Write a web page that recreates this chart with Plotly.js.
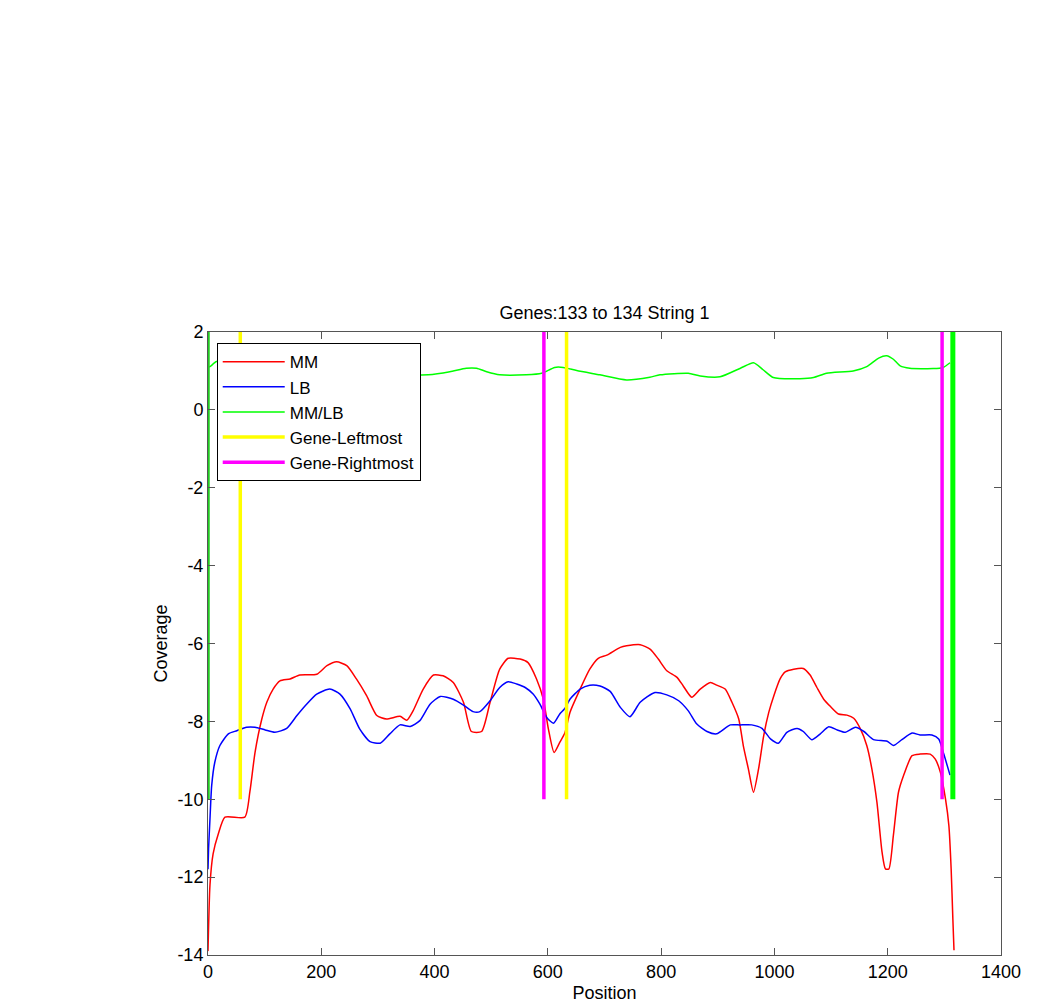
<!DOCTYPE html>
<html>
<head>
<meta charset="utf-8">
<script src="https://cdn.plot.ly/plotly-3.0.1.min.js"></script>
<style>body{margin:0;background:#fff;} #chart{width:1056px;height:1003px;}</style>
</head>
<body>
<div id="chart"></div>
<script>
// MM coverage
const mmX = [0,3.5,9,18,30,65,74,83,95,104,115,127,145,162,192,210,227,245,262,280,298,315,339,351,362,380,398,415,433,451,465,483,498,515,530,551,565,580,592,601,611,621,630,639,657,674,689,704,728,739,763,781,795,810,828,839,854,869,887,898,913,925,937,945,954,963,972,981,990,999,1010,1019,1034,1051,1063,1075,1087,1099,1113,1128,1140,1152,1163,1172,1181,1190,1196,1202,1210,1219,1228,1243,1257,1275,1284,1293,1302,1308,1312,1315,1317];
const mmY = [-13.9,-12.2,-11.4,-10.9,-10.46,-10.46,-9.8,-8.8,-7.94,-7.5,-7.17,-6.96,-6.91,-6.81,-6.79,-6.57,-6.47,-6.57,-6.91,-7.34,-7.85,-7.94,-7.87,-7.97,-7.73,-7.17,-6.81,-6.83,-7.0,-7.51,-8.26,-8.26,-7.51,-6.66,-6.38,-6.4,-6.49,-6.91,-7.43,-8.2,-8.8,-8.54,-8.3,-7.77,-7.17,-6.66,-6.38,-6.3,-6.1,-6.06,-6.03,-6.15,-6.4,-6.7,-6.87,-7.09,-7.38,-7.17,-7.0,-7.07,-7.17,-7.51,-7.94,-8.62,-9.22,-9.82,-9.22,-8.37,-7.77,-7.34,-6.91,-6.73,-6.66,-6.64,-6.81,-7.13,-7.43,-7.62,-7.81,-7.84,-7.92,-8.2,-8.62,-9.22,-10.08,-11.36,-11.79,-11.79,-10.93,-9.82,-9.39,-8.88,-8.84,-8.84,-8.97,-9.31,-9.99,-10.68,-11.79,-13.07,-13.88];

// LB coverage
const lbX = [0,1,3.5,6.5,12,21,36,51,68,83,101,118,139,157,174,192,215,233,251,268,286,304,321,339,357,374,392,410,433,451,468,480,498,515,530,545,560,574,586,598,610,621,630,639,657,674,692,710,728,745,763,789,810,831,848,863,881,898,922,939,960,978,993,1007,1022,1040,1051,1066,1081,1096,1111,1125,1143,1158,1175,1199,1210,1225,1243,1257,1278,1290,1299,1310];
const lbY = [-11.8,-11.27,-10.5,-9.65,-9.05,-8.62,-8.32,-8.24,-8.15,-8.15,-8.22,-8.28,-8.18,-7.85,-7.56,-7.3,-7.17,-7.3,-7.68,-8.2,-8.52,-8.56,-8.32,-8.09,-8.13,-7.98,-7.56,-7.36,-7.43,-7.58,-7.75,-7.75,-7.47,-7.13,-6.98,-7.04,-7.13,-7.3,-7.56,-7.9,-8.05,-7.81,-7.67,-7.43,-7.17,-7.07,-7.09,-7.23,-7.64,-7.88,-7.51,-7.26,-7.32,-7.47,-7.73,-8.07,-8.26,-8.32,-8.09,-8.09,-8.09,-8.18,-8.45,-8.56,-8.28,-8.18,-8.26,-8.47,-8.32,-8.14,-8.22,-8.28,-8.15,-8.26,-8.47,-8.51,-8.62,-8.47,-8.3,-8.35,-8.35,-8.45,-8.84,-9.38];

// MM/LB ratio
const ratioX = [0,3.5,15,40,80,120,180,240,300,350,389,427,456,474,492,515,562,589,612,627,651,692,739,780,798,848,869,904,940,963,980,998,1045,1069,1092,1139,1163,1184,1198,1210,1222,1239,1280,1298,1310];
const ratioY = [1.1,1.11,1.24,1.2,1.1,1.0,0.95,0.92,0.9,0.9,0.9,0.98,1.07,1.07,0.98,0.9,0.9,0.94,1.09,1.09,1.01,0.9,0.77,0.84,0.9,0.94,0.87,0.85,1.07,1.21,1.03,0.83,0.8,0.83,0.94,1.0,1.11,1.33,1.39,1.3,1.13,1.07,1.06,1.09,1.21];

// Gene boundary markers
const geneLeftPos = [57, 633];
const geneRightPos = [593, 1296];
const stringStartPos = [0];
const stringEndPos = [1315];
const markerBottom = -10;
const markerTop = 2;

// Axis ticks
const xTicks = [0,200,400,600,800,1000,1200,1400];
const xTickText = ['0','200','400','600','800','1000','1200','1400'];
const yTicks = [-14,-12,-10,-8,-6,-4,-2,0,2];
const yTickText = ['-14','-12','-10','-8','-6','-4','-2','0','2'];

function vlines(pos){
  const x = [], y = [];
  pos.forEach((p, i) => {
    if (i > 0) { x.push(null); y.push(null); }
    x.push(p, p); y.push(markerBottom, markerTop);
  });
  return {x, y};
}

const gl = vlines(geneLeftPos);
const gr = vlines(geneRightPos);
const gs = vlines(stringStartPos);
const ge = vlines(stringEndPos);

const traces = [
  {x: mmX, y: mmY, name: 'MM', mode: 'lines', line: {color: '#ff0000', width: 1.5, shape: 'spline', smoothing: 0.6}},
  {x: lbX, y: lbY, name: 'LB', mode: 'lines', line: {color: '#0000ff', width: 1.5, shape: 'spline', smoothing: 0.6}},
  {x: ratioX, y: ratioY, name: 'MM/LB', mode: 'lines', line: {color: '#00ff00', width: 1.5, shape: 'spline', smoothing: 0.6}},
  {x: gs.x, y: gs.y, name: 'start', mode: 'lines', showlegend: false, line: {color: '#22cc22', width: 3.5}},
  {x: ge.x, y: ge.y, name: 'end', mode: 'lines', showlegend: false, line: {color: '#00ff00', width: 5}},
  {x: gl.x, y: gl.y, name: 'Gene-Leftmost', mode: 'lines', line: {color: '#ffff00', width: 3.5}},
  {x: gr.x, y: gr.y, name: 'Gene-Rightmost', mode: 'lines', line: {color: '#ff00ff', width: 3.5}}
];

const FONT = 'Liberation Sans, Arial, sans-serif';
const axisCommon = {
  showgrid: false, zeroline: false, showline: true, linecolor: '#555', linewidth: 1,
  mirror: 'ticks', ticks: 'inside', ticklen: 7, tickcolor: '#555',
  tickfont: {family: FONT, size: 18, color: '#000'}
};

const layout = {
  width: 1056, height: 1003,
  margin: {l: 208, r: 55, t: 332, b: 48},
  paper_bgcolor: '#fff', plot_bgcolor: '#fff',
  font: {family: FONT, size: 18, color: '#000'},
  title: {text: 'Genes:133 to 134 String 1', x: 0.5725, xanchor: 'center', y: 1 - 313/1003, yanchor: 'middle', font: {size: 18}},
  xaxis: Object.assign({}, axisCommon, {range: [0, 1400], tickvals: xTicks, ticktext: xTickText, title: {text: 'Position', standoff: 6, font: {size: 18}}}),
  yaxis: Object.assign({}, axisCommon, {range: [-14, 2], tickvals: yTicks, ticktext: yTickText, title: {text: 'Coverage', standoff: 5, font: {size: 18}}}),
  showlegend: true,
  legend: {x: 0.011, y: 0.982, xanchor: 'left', yanchor: 'top', bgcolor: '#fff', bordercolor: '#000', borderwidth: 1,
    font: {size: 17}, itemwidth: 62, tracegroupgap: 0}
};

Plotly.newPlot('chart', traces, layout, {staticPlot: true});
</script>
</body>
</html>
